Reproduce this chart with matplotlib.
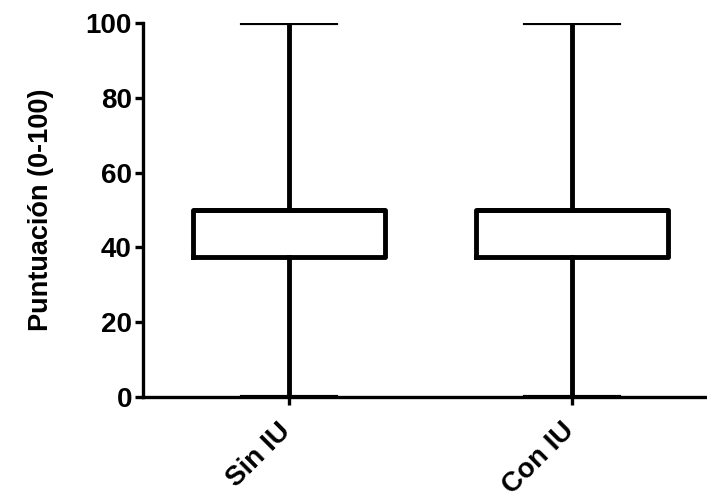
import matplotlib
matplotlib.use("Agg")
import matplotlib.pyplot as plt
import matplotlib.transforms as mtransforms

plt.rcParams['font.family'] = ['Liberation Sans', 'DejaVu Sans']
plt.rcParams['font.weight'] = 'bold'

# datos del diagrama de caja (mínimo, Q1, mediana, Q3, máximo)
grupos = ["Sin IU", "Con IU"]
minimos = [0, 0]
q1 = [37.5, 37.5]
medianas = [50, 50]
q3 = [50, 50]
maximos = [100, 100]

stats = []
for g, lo, a, m, b, hi in zip(grupos, minimos, q1, medianas, q3, maximos):
    stats.append({"label": g, "whislo": lo, "q1": a, "med": m, "q3": b, "whishi": hi, "fliers": []})

fig = plt.figure(figsize=(7.07, 5.0), dpi=100)
ax = fig.add_axes([0.2023, 0.206, 0.7977, 0.748])

lw = 3.5
ax.bxp(stats, positions=[1, 2], widths=0.68, capwidths=0.335, showfliers=False,
       boxprops=dict(color='black', linewidth=lw, solid_joinstyle='round'),
       whiskerprops=dict(color='black', linewidth=lw),
       capprops=dict(color='black', linewidth=3.0),
       medianprops=dict(color='black', linewidth=lw))

ax.set_xlim(0.484, 2.477)
ax.set_ylim(0, 100)
ax.set_yticks([0, 20, 40, 60, 80, 100])
ax.set_xticks([1, 2])
ax.set_xticklabels(grupos, rotation=45, ha='right', rotation_mode='anchor', fontsize=20, fontweight='bold')
ax.tick_params(axis='y', labelsize=20, width=2.4, length=6, direction='out', pad=2)
ax.tick_params(axis='x', width=2.4, length=6, direction='out', pad=9)
for lab in ax.get_yticklabels():
    lab.set_fontweight('bold')

# desplazar las etiquetas del eje x un poco a la izquierda
desplaza = mtransforms.ScaledTranslation(-8 / 72, 0, fig.dpi_scale_trans)
for lab in ax.get_xticklabels():
    lab.set_transform(lab.get_transform() + desplaza)

ax.spines['top'].set_visible(False)
ax.spines['right'].set_visible(False)
ax.spines['left'].set_linewidth(2.4)
ax.spines['bottom'].set_linewidth(2.4)
for s in ax.spines.values():
    s.set_clip_on(False)

ax.set_ylabel("Puntuación (0-100)", fontsize=19.5, fontweight='bold', labelpad=23)

fig.savefig("out.png", dpi=100)
